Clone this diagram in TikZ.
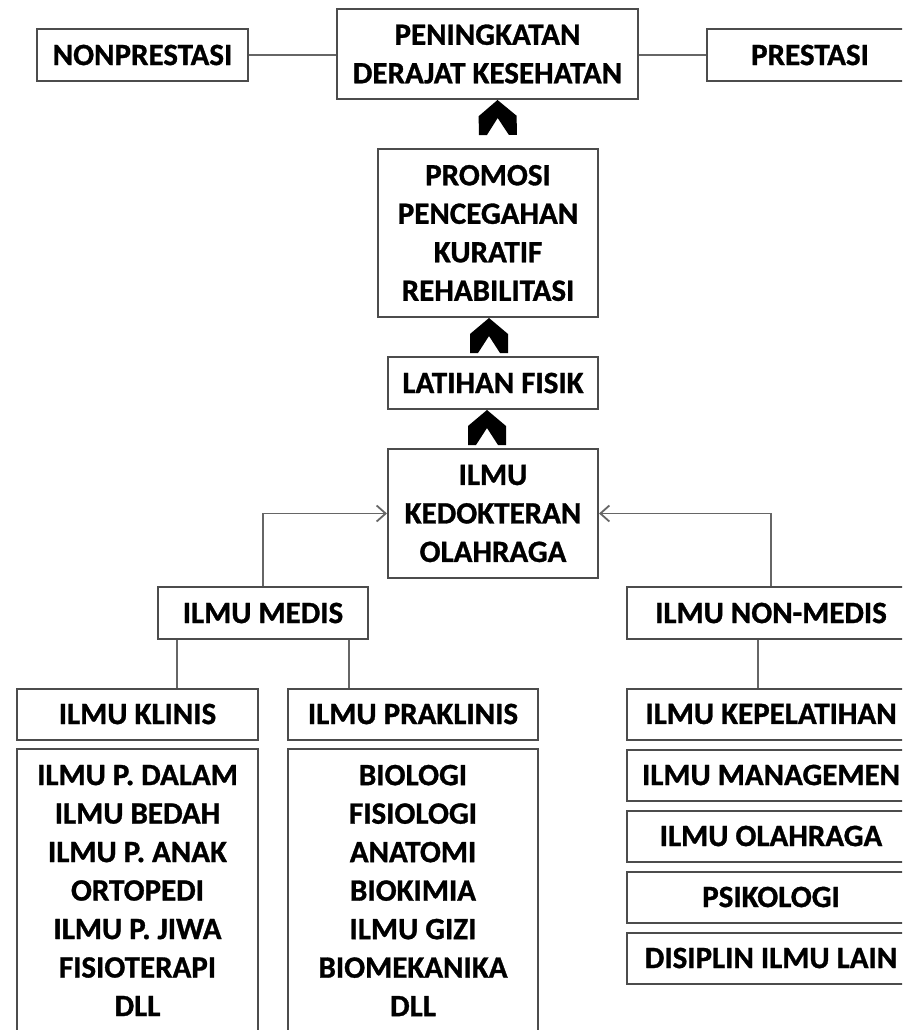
\documentclass[tikz,border=0pt]{standalone}
\usepackage{fontspec}
\setmainfont{Carlito}[BoldFeatures={FakeBold=1}]
\usetikzlibrary{arrows.meta,positioning}

% tip chevron tebal
\pgfdeclarearrow{
  name=Chevron,
  setup code={
    \pgfarrowssettipend{0pt}
    \pgfarrowssetlineend{-10pt}
    \pgfarrowssetbackend{-35pt}
    \pgfarrowssetvisualbackend{-35pt}
    \pgfarrowshullpoint{0pt}{0pt}
    \pgfarrowsupperhullpoint{-35pt}{19pt}
  },
  drawing code={
    \pgfpathmoveto{\pgfpoint{0pt}{0pt}}
    \pgfpathlineto{\pgfpoint{-16pt}{19pt}}
    \pgfpathlineto{\pgfpoint{-35pt}{19pt}}
    \pgfpathlineto{\pgfpoint{-35pt}{11pt}}
    \pgfpathlineto{\pgfpoint{-18pt}{0pt}}
    \pgfpathlineto{\pgfpoint{-35pt}{-11pt}}
    \pgfpathlineto{\pgfpoint{-35pt}{-19pt}}
    \pgfpathlineto{\pgfpoint{-16pt}{-19pt}}
    \pgfpathclose
    \pgfusepathqfill
  }
}

\begin{document}
\begin{tikzpicture}[
  x=1pt, y=-1pt,
  kotak/.style={draw=black!70, line width=2pt, inner sep=0pt, align=center,
    font=\fontsize{31pt}{38.5pt}\selectfont\bfseries},
  garis/.style={draw=black!60, line width=1.8pt},
  panah/.style={garis, -{Straight Barb[length=9pt,width=16pt]}},
  chevron/.style={-Chevron, line width=0.5pt, shorten <=#1}
]
\useasboundingbox (0,0) rectangle (902,1030);
\clip (0,0) rectangle (902,1030);

% puncak
\node[kotak, minimum width=301pt, minimum height=90pt] (peningkatan) at (487.5,54) {PENINGKATAN\\DERAJAT KESEHATAN};
\node[kotak, minimum width=211pt, minimum height=52pt] (nonprestasi) at (142.5,55) {NONPRESTASI};
\node[kotak, minimum width=206pt, minimum height=52pt] (prestasi) at (810,55) {PRESTASI};
\draw[garis] (nonprestasi.east) -- (peningkatan.west |- nonprestasi.east);
\draw[garis] (peningkatan.east |- prestasi.west) -- (prestasi.west);

% poros tengah
\node[kotak, minimum width=220pt, minimum height=168pt] (promosi) at (488,233) {PROMOSI\\PENCEGAHAN\\KURATIF\\REHABILITASI};
\node[kotak, minimum width=210pt, minimum height=52pt] (latihan) at (493,383) {LATIHAN FISIK};
\node[kotak, minimum width=210pt, minimum height=129pt] (kedokteran) at (493,513.5) {ILMU\\KEDOKTERAN\\OLAHRAGA};
\draw[chevron=36pt] ([xshift=10pt]promosi.north) -- ([xshift=10pt]peningkatan.south);
\draw[chevron=26pt] ([xshift=-4pt]latihan.north) -- ([xshift=-4pt]latihan.north |- promosi.south);
\draw[chevron=26pt] ([xshift=-6pt]kedokteran.north) -- ([xshift=-6pt]latihan.south);

% cabang ilmu
\node[kotak, minimum width=210pt, minimum height=52pt] (medis) at (263,613) {ILMU MEDIS};
\node[kotak, minimum width=288pt, minimum height=52pt] (nonmedis) at (771,613) {ILMU NON-MEDIS};
\draw[panah] (medis.north) |- (kedokteran.west);
\draw[panah] (nonmedis.north) |- (kedokteran.east);

% ilmu medis
\node[kotak, minimum width=241pt, minimum height=51pt] (klinis) at (137.5,714) {ILMU KLINIS};
\node[kotak, minimum width=250pt, minimum height=51pt] (praklinis) at (413,714) {ILMU PRAKLINIS};
\draw[garis] ([xshift=20pt]medis.south west) -- ([xshift=20pt]medis.south west |- klinis.north);
\draw[garis] ([xshift=-20pt]medis.south east) -- ([xshift=-20pt]medis.south east |- praklinis.north);
\node[kotak, anchor=north, minimum width=241pt, minimum height=283pt] (daftarklinis) at (137.5,748)
  {ILMU P. DALAM\\ILMU BEDAH\\ILMU P. ANAK\\ORTOPEDI\\ILMU P. JIWA\\FISIOTERAPI\\DLL};
\node[kotak, anchor=north, minimum width=250pt, minimum height=283pt] (daftarpraklinis) at (413,748)
  {BIOLOGI\\FISIOLOGI\\ANATOMI\\BIOKIMIA\\ILMU GIZI\\BIOMEKANIKA\\DLL};

% ilmu non-medis
\node[kotak, minimum width=288pt, minimum height=51pt] (kepelatihan) at (771,714) {ILMU KEPELATIHAN};
\node[kotak, minimum width=288pt, minimum height=51pt, below=8pt of kepelatihan] (managemen) {ILMU MANAGEMEN};
\node[kotak, minimum width=288pt, minimum height=51pt, below=8pt of managemen] (olahraga) {ILMU OLAHRAGA};
\node[kotak, minimum width=288pt, minimum height=51pt, below=8pt of olahraga] (psikologi) {PSIKOLOGI};
\node[kotak, minimum width=288pt, minimum height=51pt, below=8pt of psikologi] (disiplin) {DISIPLIN ILMU LAIN};
\draw[garis] ([xshift=-13pt]nonmedis.south) -- ([xshift=-13pt]nonmedis.south |- kepelatihan.north);
\end{tikzpicture}
\end{document}
